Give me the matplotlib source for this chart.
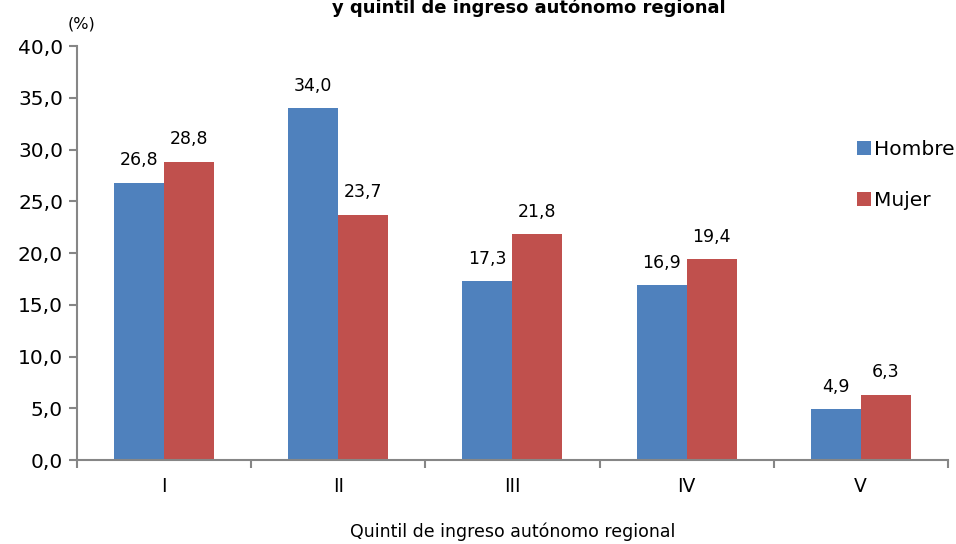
import matplotlib
matplotlib.use("Agg")
import matplotlib.pyplot as plt
import numpy as np

categories = ["I", "II", "III", "IV", "V"]
hombre = [26.8, 34.0, 17.3, 16.9, 4.9]
mujer = [28.8, 23.7, 21.8, 19.4, 6.3]

BLUE = "#4F81BD"
RED = "#C0504D"
GREY = "#868686"


def fmt(v):
    return f"{v:.1f}".replace(".", ",")


plt.rcParams["font.family"] = ["DejaVu Sans"]

fig = plt.figure(figsize=(9.56, 5.44), dpi=100)
ax = fig.add_axes([0.0805, 0.1544, 0.911, 0.761])

x = np.arange(len(categories))
w = 0.287
b1 = ax.bar(x - w / 2, hombre, w, color=BLUE, label="Hombre")
b2 = ax.bar(x + w / 2, mujer, w, color=RED, label="Mujer")

for bars, vals in ((b1, hombre), (b2, mujer)):
    for r, v in zip(bars, vals):
        ax.text(r.get_x() + r.get_width() / 2, v + 1.3, fmt(v),
                ha="center", va="bottom", fontsize=12.5)

ax.set_xlim(-0.5, len(categories) - 0.5)
ax.set_ylim(0, 40)
ax.set_yticks(np.arange(0, 40.1, 5))
ax.set_yticklabels([fmt(t) for t in np.arange(0, 40.1, 5)], fontsize=14.5)
ax.set_xticks(x)
ax.set_xticklabels(categories, fontsize=13.5)
ax.set_xticks(np.arange(-0.5, len(categories)), minor=True)
ax.tick_params(axis="x", which="major", length=0, pad=12)
ax.tick_params(axis="x", which="minor", length=6, color=GREY, width=1.5)
ax.tick_params(axis="y", length=6, color=GREY, width=1.5, pad=4)

for side in ("top", "right"):
    ax.spines[side].set_visible(False)
for side in ("left", "bottom"):
    ax.spines[side].set_color(GREY)
    ax.spines[side].set_linewidth(1.5)

ax.set_xlabel("Quintil de ingreso autónomo regional", fontsize=12.5,
              labelpad=19)

fig.text(0.071, 0.955, "(%)", fontsize=11.5, ha="left", va="center")
fig.text(0.553, 0.986, "y quintil de ingreso autónomo regional",
         fontsize=13, fontweight="bold", ha="center", va="center")

fig.legend(loc="upper left", bbox_to_anchor=(0.888, 0.758), frameon=False,
           fontsize=14.5, handlelength=0.7, handleheight=0.7,
           handletextpad=0.15, labelspacing=1.6, borderaxespad=0)

fig.savefig("out.png", dpi=100)
